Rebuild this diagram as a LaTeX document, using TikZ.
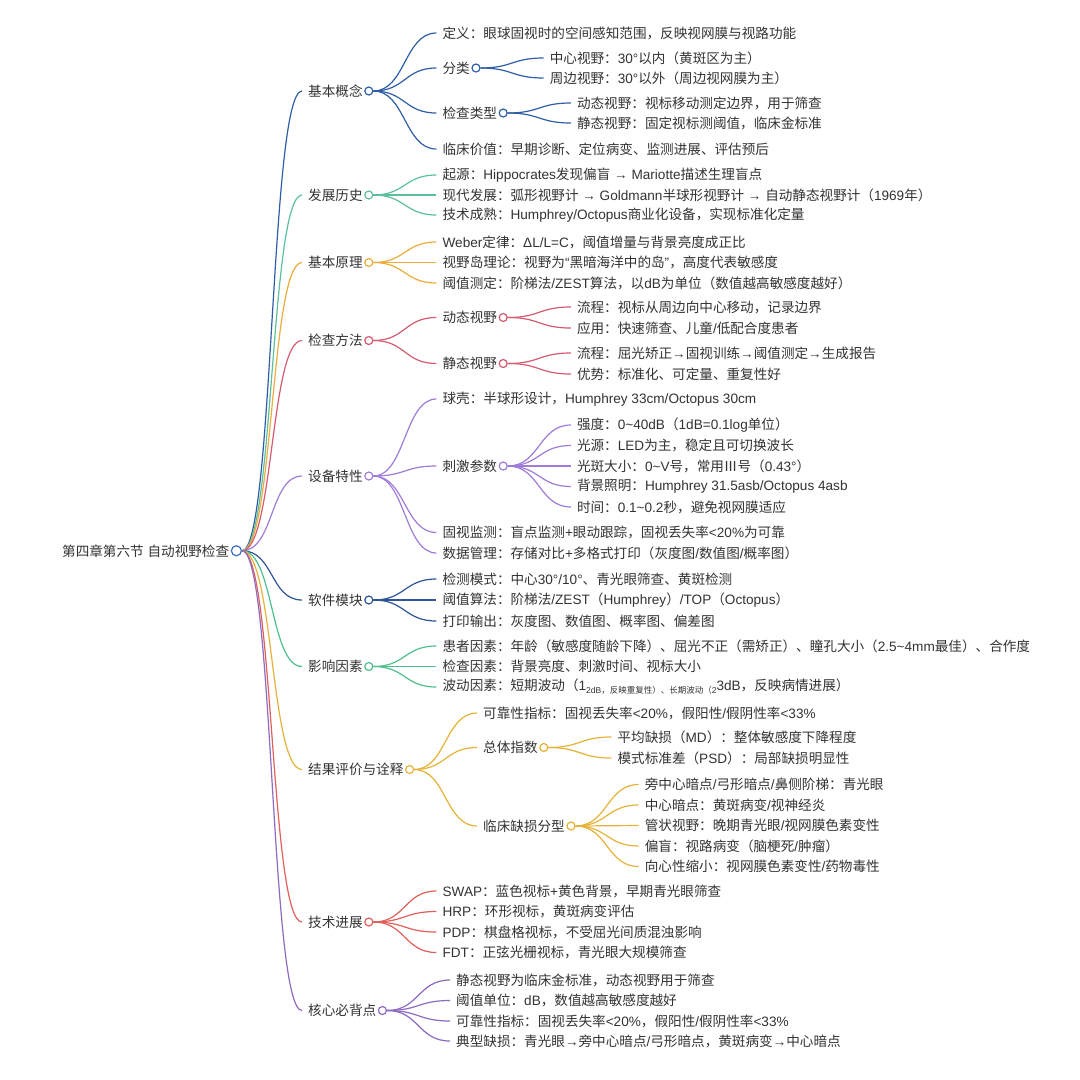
\documentclass[tikz,border=0pt]{standalone}
\usepackage{fontspec}
\setmainfont{Liberation Sans}
\newfontfamily\cjkfont{Noto Sans CJK SC}
\XeTeXinterchartokenstate=1
\newXeTeXintercharclass\cjkcls
\newcount\cjkc
\cjkc="3000 \loop \XeTeXcharclass\cjkc=\cjkcls \advance\cjkc by 1 \ifnum\cjkc<"A000 \repeat
\cjkc="FF00 \loop \XeTeXcharclass\cjkc=\cjkcls \advance\cjkc by 1 \ifnum\cjkc<"FFF0 \repeat
\cjkc="2160 \loop \XeTeXcharclass\cjkc=\cjkcls \advance\cjkc by 1 \ifnum\cjkc<"2180 \repeat
\XeTeXinterchartoks 0 \cjkcls = {\begingroup\cjkfont}
\XeTeXinterchartoks 4095 \cjkcls = {\begingroup\cjkfont}
\XeTeXinterchartoks \cjkcls 0 = {\endgroup}
\XeTeXinterchartoks \cjkcls 4095 = {\endgroup}
\definecolor{txtgray}{HTML}{333333}
\definecolor{cRoot}{HTML}{3B6FC4}
\definecolor{cA}{HTML}{2F5EA8}
\definecolor{cB}{HTML}{5BC09A}
\definecolor{cC}{HTML}{EDAC3C}
\definecolor{cD}{HTML}{D45B70}
\definecolor{cE}{HTML}{A07CD8}
\definecolor{cF}{HTML}{2D5597}
\definecolor{cG}{HTML}{4FC08D}
\definecolor{cH}{HTML}{E6B33A}
\definecolor{cI}{HTML}{E0605A}
\definecolor{cJ}{HTML}{8C6BC0}
\tikzset{
  txt/.style={anchor=west, inner sep=0pt, text=txtgray, font=\fontsize{13.6}{16}\selectfont},
  dot/.style={circle, draw=#1, fill=white, line width=1.2pt, minimum size=8pt, inner sep=0pt},
  link/.style={draw=#1, line width=1.2pt},
}
\newcommand\lk[3]{\draw[link=#1] (#2.east) .. controls +(32,0) and +(-32,0) .. ([xshift=-6pt]#3.west);}
\newcommand\sm[1]{\raisebox{-0.4ex}{\fontsize{8.5}{10}\selectfont #1}}
\begin{document}
\begin{tikzpicture}[x=1pt,y=-1pt]
\useasboundingbox[fill=white] (0,0) rectangle (1080,1080);
% root
\node[txt] (root) at (62,550.75) {第四章第六节 自动视野检查};
\node[dot=cRoot, minimum size=10pt] (rooto) at ([xshift=7pt]root.east) {};
% level 1
\node[txt] (k1) at (308,91) {基本概念};
\node[txt] (k2) at (308,195) {发展历史};
\node[txt] (k3) at (308,262.5) {基本原理};
\node[txt] (k4) at (308,340.5) {检查方法};
\node[txt] (k5) at (308,476) {设备特性};
\node[txt] (k6) at (308,600) {软件模块};
\node[txt] (k7) at (308,666.5) {影响因素};
\node[txt] (k8) at (308,769.5) {结果评价与诠释};
\node[txt] (k9) at (308,922) {技术进展};
\node[txt] (k10) at (308,1010.5) {核心必背点};
% branch 1
\node[txt] (k1-1) at (442.4,33) {定义：眼球固视时的空间感知范围，反映视网膜与视路功能};
\node[txt] (k1-2) at (442.4,68) {分类};
\node[txt] (k1-2-1) at (549.6,58) {中心视野：30°以内（黄斑区为主）};
\node[txt] (k1-2-2) at (549.6,78) {周边视野：30°以外（周边视网膜为主）};
\node[txt] (k1-3) at (442.4,113) {检查类型};
\node[txt] (k1-3-1) at (576.8,103) {动态视野：视标移动测定边界，用于筛查};
\node[txt] (k1-3-2) at (576.8,123) {静态视野：固定视标测阈值，临床金标准};
\node[txt] (k1-4) at (442.4,149) {临床价值：早期诊断、定位病变、监测进展、评估预后};
% branch 2
\node[txt] (k2-1) at (442.4,175) {起源：Hippocrates发现偏盲 → Mariotte描述生理盲点};
\node[txt] (k2-2) at (442.4,195) {现代发展：弧形视野计 → Goldmann半球形视野计 → 自动静态视野计（1969年）};
\node[txt] (k2-3) at (442.4,215) {技术成熟：Humphrey/Octopus商业化设备，实现标准化定量};
% branch 3
\node[txt] (k3-1) at (442.4,242) {Weber定律：ΔL/L=C，阈值增量与背景亮度成正比};
\node[txt] (k3-2) at (442.4,262.5) {视野岛理论：视野为“黑暗海洋中的岛”，高度代表敏感度};
\node[txt] (k3-3) at (442.4,283) {阈值测定：阶梯法/ZEST算法，以dB为单位（数值越高敏感度越好）};
% branch 4
\node[txt] (k4-1) at (442.4,317.5) {动态视野};
\node[txt] (k4-1-1) at (576.8,307) {流程：视标从周边向中心移动，记录边界};
\node[txt] (k4-1-2) at (576.8,328) {应用：快速筛查、儿童/低配合度患者};
\node[txt] (k4-2) at (442.4,363.5) {静态视野};
\node[txt] (k4-2-1) at (576.8,353) {流程：屈光矫正→固视训练→阈值测定→生成报告};
\node[txt] (k4-2-2) at (576.8,374) {优势：标准化、可定量、重复性好};
% branch 5
\node[txt] (k5-1) at (442.4,399) {球壳：半球形设计，Humphrey 33cm/Octopus 30cm};
\node[txt] (k5-2) at (442.4,466) {刺激参数};
\node[txt] (k5-2-1) at (576.8,425) {强度：0\textasciitilde 40dB（1dB=0.1log单位）};
\node[txt] (k5-2-2) at (576.8,445.5) {光源：LED为主，稳定且可切换波长};
\node[txt] (k5-2-3) at (576.8,466) {光斑大小：0\textasciitilde V号，常用Ⅲ号（0.43°）};
\node[txt] (k5-2-4) at (576.8,486.5) {背景照明：Humphrey 31.5asb/Octopus 4asb};
\node[txt] (k5-2-5) at (576.8,507) {时间：0.1\textasciitilde 0.2秒，避免视网膜适应};
\node[txt] (k5-3) at (442.4,532.5) {固视监测：盲点监测+眼动跟踪，固视丢失率<20\%为可靠};
\node[txt] (k5-4) at (442.4,553) {数据管理：存储对比+多格式打印（灰度图/数值图/概率图）};
% branch 6
\node[txt] (k6-1) at (442.4,579) {检测模式：中心30°/10°、青光眼筛查、黄斑检测};
\node[txt] (k6-2) at (442.4,600) {阈值算法：阶梯法/ZEST（Humphrey）/TOP（Octopus）};
\node[txt] (k6-3) at (442.4,621) {打印输出：灰度图、数值图、概率图、偏差图};
% branch 7
\node[txt] (k7-1) at (442.4,646) {患者因素：年龄（敏感度随龄下降）、屈光不正（需矫正）、瞳孔大小（2.5\textasciitilde 4mm最佳）、合作度};
\node[txt] (k7-2) at (442.4,666.5) {检查因素：背景亮度、刺激时间、视标大小};
\node[txt] (k7-3) at (442.4,687) {波动因素：短期波动（1\sm{2dB，反映重复性）、长期波动（2}3dB，反映病情进展）};
% branch 8
\node[txt] (k8-1) at (483,713) {可靠性指标：固视丢失率<20\%，假阳性/假阴性率<33\%};
\node[txt] (k8-2) at (483,747.5) {总体指数};
\node[txt] (k8-2-1) at (617.4,737) {平均缺损（MD）：整体敏感度下降程度};
\node[txt] (k8-2-2) at (617.4,758) {模式标准差（PSD）：局部缺损明显性};
\node[txt] (k8-3) at (483,826) {临床缺损分型};
\node[txt] (k8-3-1) at (644.6,784.5) {旁中心暗点/弓形暗点/鼻侧阶梯：青光眼};
\node[txt] (k8-3-2) at (644.6,805) {中心暗点：黄斑病变/视神经炎};
\node[txt] (k8-3-3) at (644.6,825.5) {管状视野：晚期青光眼/视网膜色素变性};
\node[txt] (k8-3-4) at (644.6,846) {偏盲：视路病变（脑梗死/肿瘤）};
\node[txt] (k8-3-5) at (644.6,866.5) {向心性缩小：视网膜色素变性/药物毒性};
% branch 9
\node[txt] (k9-1) at (442.4,891) {SWAP：蓝色视标+黄色背景，早期青光眼筛查};
\node[txt] (k9-2) at (442.4,911.5) {HRP：环形视标，黄斑病变评估};
\node[txt] (k9-3) at (442.4,932) {PDP：棋盘格视标，不受屈光间质混浊影响};
\node[txt] (k9-4) at (442.4,952.5) {FDT：正弦光栅视标，青光眼大规模筛查};
% branch 10
\node[txt] (k10-1) at (456,980) {静态视野为临床金标准，动态视野用于筛查};
\node[txt] (k10-2) at (456,1000.5) {阈值单位：dB，数值越高敏感度越好};
\node[txt] (k10-3) at (456,1021) {可靠性指标：固视丢失率<20\%，假阳性/假阴性率<33\%};
\node[txt] (k10-4) at (456,1041) {典型缺损：青光眼→旁中心暗点/弓形暗点，黄斑病变→中心暗点};
% circles
\node[dot=cA] (k1o) at ([xshift=6pt]k1.east) {};
\node[dot=cB] (k2o) at ([xshift=6pt]k2.east) {};
\node[dot=cC] (k3o) at ([xshift=6pt]k3.east) {};
\node[dot=cD] (k4o) at ([xshift=6pt]k4.east) {};
\node[dot=cE] (k5o) at ([xshift=6pt]k5.east) {};
\node[dot=cF] (k6o) at ([xshift=6pt]k6.east) {};
\node[dot=cG] (k7o) at ([xshift=6pt]k7.east) {};
\node[dot=cH] (k8o) at ([xshift=6pt]k8.east) {};
\node[dot=cI] (k9o) at ([xshift=6pt]k9.east) {};
\node[dot=cJ] (k10o) at ([xshift=6pt]k10.east) {};
\node[dot=cA] (k1-2o) at ([xshift=6pt]k1-2.east) {};
\node[dot=cA] (k1-3o) at ([xshift=6pt]k1-3.east) {};
\node[dot=cD] (k4-1o) at ([xshift=6pt]k4-1.east) {};
\node[dot=cD] (k4-2o) at ([xshift=6pt]k4-2.east) {};
\node[dot=cE] (k5-2o) at ([xshift=6pt]k5-2.east) {};
\node[dot=cH] (k8-2o) at ([xshift=6pt]k8-2.east) {};
\node[dot=cH] (k8-3o) at ([xshift=6pt]k8-3.east) {};
% links root
\lk{cA}{rooto}{k1}
\lk{cB}{rooto}{k2}
\lk{cC}{rooto}{k3}
\lk{cD}{rooto}{k4}
\lk{cE}{rooto}{k5}
\lk{cF}{rooto}{k6}
\lk{cG}{rooto}{k7}
\lk{cH}{rooto}{k8}
\lk{cI}{rooto}{k9}
\lk{cJ}{rooto}{k10}
% links branch 1
\lk{cA}{k1o}{k1-1}
\lk{cA}{k1o}{k1-2}
\lk{cA}{k1o}{k1-3}
\lk{cA}{k1o}{k1-4}
\lk{cA}{k1-2o}{k1-2-1}
\lk{cA}{k1-2o}{k1-2-2}
\lk{cA}{k1-3o}{k1-3-1}
\lk{cA}{k1-3o}{k1-3-2}
% branch 2
\lk{cB}{k2o}{k2-1}
\lk{cB}{k2o}{k2-2}
\lk{cB}{k2o}{k2-3}
% branch 3
\lk{cC}{k3o}{k3-1}
\lk{cC}{k3o}{k3-2}
\lk{cC}{k3o}{k3-3}
% branch 4
\lk{cD}{k4o}{k4-1}
\lk{cD}{k4o}{k4-2}
\lk{cD}{k4-1o}{k4-1-1}
\lk{cD}{k4-1o}{k4-1-2}
\lk{cD}{k4-2o}{k4-2-1}
\lk{cD}{k4-2o}{k4-2-2}
% branch 5
\lk{cE}{k5o}{k5-1}
\lk{cE}{k5o}{k5-2}
\lk{cE}{k5o}{k5-3}
\lk{cE}{k5o}{k5-4}
\lk{cE}{k5-2o}{k5-2-1}
\lk{cE}{k5-2o}{k5-2-2}
\lk{cE}{k5-2o}{k5-2-3}
\lk{cE}{k5-2o}{k5-2-4}
\lk{cE}{k5-2o}{k5-2-5}
% branch 6
\lk{cF}{k6o}{k6-1}
\lk{cF}{k6o}{k6-2}
\lk{cF}{k6o}{k6-3}
% branch 7
\lk{cG}{k7o}{k7-1}
\lk{cG}{k7o}{k7-2}
\lk{cG}{k7o}{k7-3}
% branch 8
\lk{cH}{k8o}{k8-1}
\lk{cH}{k8o}{k8-2}
\lk{cH}{k8o}{k8-3}
\lk{cH}{k8-2o}{k8-2-1}
\lk{cH}{k8-2o}{k8-2-2}
\lk{cH}{k8-3o}{k8-3-1}
\lk{cH}{k8-3o}{k8-3-2}
\lk{cH}{k8-3o}{k8-3-3}
\lk{cH}{k8-3o}{k8-3-4}
\lk{cH}{k8-3o}{k8-3-5}
% branch 9
\lk{cI}{k9o}{k9-1}
\lk{cI}{k9o}{k9-2}
\lk{cI}{k9o}{k9-3}
\lk{cI}{k9o}{k9-4}
% branch 10
\lk{cJ}{k10o}{k10-1}
\lk{cJ}{k10o}{k10-2}
\lk{cJ}{k10o}{k10-3}
\lk{cJ}{k10o}{k10-4}
\end{tikzpicture}
\end{document}
